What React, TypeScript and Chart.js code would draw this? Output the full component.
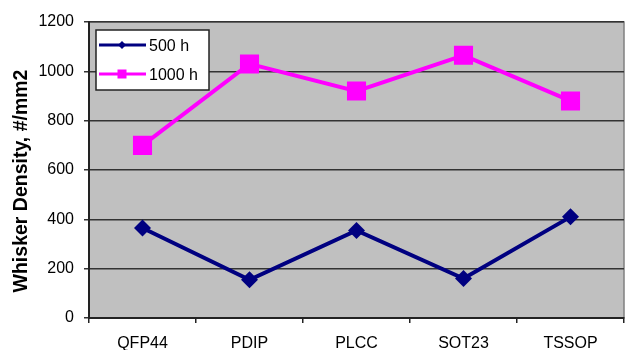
import React, { useEffect, useRef } from "react";
import { Chart, registerables } from "chart.js";

Chart.register(...registerables);

// Package types and whisker densities after each exposure time
const packages = ["QFP44", "PDIP", "PLCC", "SOT23", "TSSOP"];
const density500h = [365, 155, 355, 160, 410];
const density1000h = [700, 1030, 920, 1065, 880];
const yTicks = [0, 200, 400, 600, 800, 1000, 1200];

const FONT = "'Liberation Sans', Arial, sans-serif";

// Grey plot area behind the series
const plotBackground = {
  id: "plotBackground",
  beforeDraw(chart: any) {
    const { ctx, chartArea: a } = chart;
    ctx.save();
    ctx.fillStyle = "#C0C0C0";
    ctx.fillRect(a.left, a.top, a.right - a.left, a.bottom - a.top);
    ctx.strokeStyle = "#808080";
    ctx.lineWidth = 1.5;
    ctx.strokeRect(a.left, a.top, a.right - a.left, a.bottom - a.top);
    ctx.restore();
  },
};

// Rotated y-axis caption
const yCaption = {
  id: "yCaption",
  afterDraw(chart: any) {
    const { ctx } = chart;
    ctx.save();
    ctx.translate(22, 181);
    ctx.rotate(-Math.PI / 2);
    ctx.font = `bold 19.5px ${FONT}`;
    ctx.fillStyle = "#000";
    ctx.textAlign = "center";
    ctx.textBaseline = "middle";
    ctx.fillText("Whisker Density, #/mm2", 0, 0);
    ctx.restore();
  },
};

// Boxed legend sitting inside the plot area, upper left
const boxedLegend = {
  id: "boxedLegend",
  afterDraw(chart: any) {
    const { ctx } = chart;
    const box = { x: 96, y: 30, w: 113, h: 60 };
    ctx.save();
    ctx.fillStyle = "#FFFFFF";
    ctx.fillRect(box.x, box.y, box.w, box.h);
    ctx.strokeStyle = "#222";
    ctx.lineWidth = 1.5;
    ctx.strokeRect(box.x, box.y, box.w, box.h);
    chart.data.datasets.forEach((ds: any, i: number) => {
      const y = 45 + i * 29;
      ctx.strokeStyle = ds.borderColor;
      ctx.lineWidth = 3;
      ctx.beginPath();
      ctx.moveTo(99, y);
      ctx.lineTo(146, y);
      ctx.stroke();
      ctx.fillStyle = ds.backgroundColor;
      const cx = 122;
      if (ds.pointStyle === "rectRot") {
        const r = 4;
        ctx.beginPath();
        ctx.moveTo(cx - r, y);
        ctx.lineTo(cx, y - r);
        ctx.lineTo(cx + r, y);
        ctx.lineTo(cx, y + r);
        ctx.closePath();
        ctx.fill();
      } else {
        ctx.fillRect(cx - 4.5, y - 4.5, 9, 9);
      }
      ctx.fillStyle = "#000";
      ctx.font = `16px ${FONT}`;
      ctx.textAlign = "left";
      ctx.textBaseline = "middle";
      ctx.fillText(ds.label, 149, y + 1.5);
    });
    ctx.restore();
  },
};

export default function App() {
  const canvasRef = useRef<HTMLCanvasElement>(null);

  useEffect(() => {
    const canvas = canvasRef.current;
    if (!canvas) return;
    const chart = new Chart(canvas, {
      type: "line",
      data: {
        labels: packages,
        datasets: [
          {
            label: "500 h",
            data: density500h,
            borderColor: "#000080",
            backgroundColor: "#000080",
            borderWidth: 4,
            pointStyle: "rectRot",
            pointRadius: 8.5,
            pointBorderWidth: 0,
            tension: 0,
          },
          {
            label: "1000 h",
            data: density1000h,
            borderColor: "#FF00FF",
            backgroundColor: "#FF00FF",
            borderWidth: 4,
            pointStyle: "rect",
            pointRadius: 13.5,
            pointBorderWidth: 0,
            tension: 0,
          },
        ],
      },
      options: {
        animation: false,
        responsive: false,
        layout: { autoPadding: false, padding: { top: 22, right: 3, bottom: 0, left: 0 } },
        plugins: {
          legend: { display: false },
          tooltip: { enabled: false },
        },
        scales: {
          x: {
            type: "category",
            offset: true,
            grid: {
              offset: true,
              drawOnChartArea: false,
              drawTicks: true,
              tickLength: 5,
              color: "#222",
              lineWidth: 1.5,
            },
            border: { display: true, color: "#222", width: 2 },
            ticks: {
              color: "#000",
              font: { family: FONT, size: 16 },
              padding: 11,
              maxRotation: 0,
              autoSkip: false,
            },
            afterFit: (s: any) => {
              s.height = 32;
              s.paddingLeft = 0;
              s.paddingRight = 0;
            },
          },
          y: {
            min: yTicks[0],
            max: yTicks[yTicks.length - 1],
            afterBuildTicks: (s: any) => {
              s.ticks = yTicks.map((v) => ({ value: v }));
            },
            grid: {
              color: "#333",
              lineWidth: 1.5,
              tickLength: 5,
              drawTicks: true,
            },
            border: { display: true, color: "#222", width: 2 },
            ticks: {
              color: "#000",
              font: { family: FONT, size: 16 },
              padding: 10,
              callback: (v: any) => String(v),
            },
            afterFit: (s: any) => {
              s.width = 89;
            },
          },
        },
      },
      plugins: [plotBackground, yCaption, boxedLegend],
    });
    return () => chart.destroy();
  }, []);

  return (
    <div style={{ position: "absolute", left: 0, top: 0, width: 627, height: 350, background: "#fff" }}>
      <canvas ref={canvasRef} width={627} height={350} style={{ display: "block" }} />
    </div>
  );
}
